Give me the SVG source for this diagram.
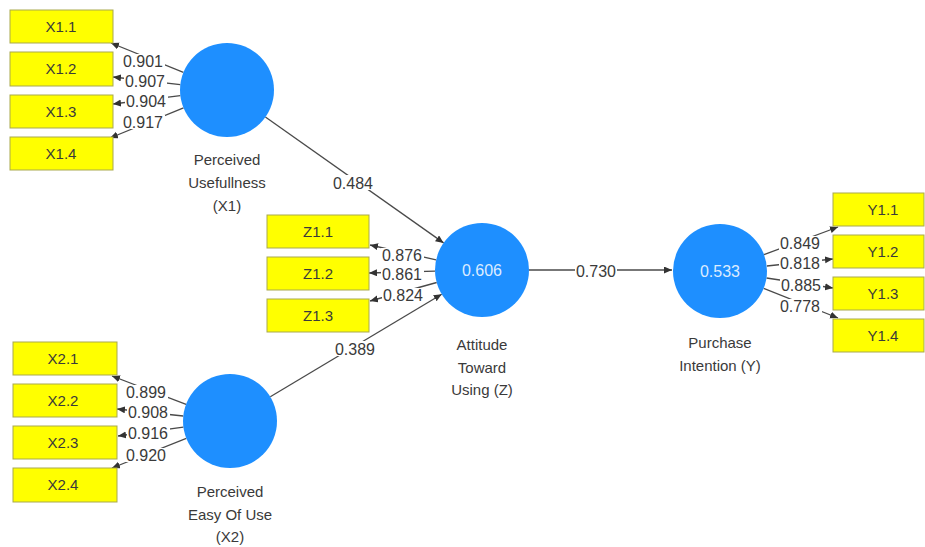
<svg xmlns="http://www.w3.org/2000/svg" width="925" height="547" viewBox="0 0 925 547">
<defs>
<marker id="arr" markerUnits="userSpaceOnUse" markerWidth="9" markerHeight="8" refX="8" refY="3.5" orient="auto">
<path d="M0,0 L8,3.5 L0,7 z" fill="#333"/>
</marker>
<style>
.box{fill:#ffff00;stroke:#a9a94e;stroke-width:1}
.lv{fill:#1e8fff}
.t{font-family:"Liberation Sans","Noto Sans",sans-serif;font-size:15px;fill:#3a3a3a;text-anchor:middle}
.n{font-family:"Liberation Sans","Noto Sans",sans-serif;font-size:16px;fill:#3a3a3a;text-anchor:middle}
.v{font-family:"Liberation Sans","Noto Sans",sans-serif;font-size:16px;fill:#dcecff;text-anchor:middle}
.c{stroke:#4a4a4a;stroke-width:1.3;fill:none;marker-end:url(#arr)}
.bg{fill:#ffffff}
</style>
</defs>
<rect width="925" height="547" fill="#ffffff"/>

<g id="connectors">
<line class="c" x1="265.4" y1="117" x2="443.6" y2="242.9"/>
<line class="c" x1="270.3" y1="396.8" x2="441.7" y2="294.2"/>
<line class="c" x1="529" y1="270" x2="672" y2="270"/>

<line class="c" x1="183.4" y1="72.4" x2="111" y2="43"/>
<line class="c" x1="180.3" y1="84.7" x2="113" y2="77"/>
<line class="c" x1="180.3" y1="95.7" x2="113" y2="104"/>
<line class="c" x1="183.5" y1="107.8" x2="110" y2="138"/>

<line class="c" x1="186.1" y1="404.3" x2="112" y2="376"/>
<line class="c" x1="183.2" y1="416" x2="117" y2="409"/>
<line class="c" x1="183.4" y1="427.2" x2="118" y2="436"/>
<line class="c" x1="186.3" y1="438.4" x2="112" y2="468"/>

<line class="c" x1="436.1" y1="259.8" x2="370" y2="245"/>
<line class="c" x1="435" y1="271.2" x2="369" y2="273"/>
<line class="c" x1="436.7" y1="282.5" x2="370" y2="301"/>

<line class="c" x1="764" y1="254.6" x2="838" y2="227"/>
<line class="c" x1="766.8" y1="266" x2="833" y2="259"/>
<line class="c" x1="766.5" y1="278" x2="833" y2="288"/>
<line class="c" x1="763.7" y1="288.4" x2="838" y2="318"/>

<rect class="bg" x="332" y="175" width="42" height="15"/><text class="n" x="353" y="189">0.484</text>
<rect class="bg" x="334" y="341" width="42" height="15"/><text class="n" x="355" y="355">0.389</text>
<rect class="bg" x="575" y="263" width="42" height="15"/><text class="n" x="596" y="277">0.730</text>

<rect class="bg" x="122" y="54" width="43" height="14"/><text class="n" x="143" y="67">0.901</text>
<rect class="bg" x="124" y="74" width="43" height="14"/><text class="n" x="145" y="87">0.907</text>
<rect class="bg" x="125" y="94" width="43" height="14"/><text class="n" x="146" y="107">0.904</text>
<rect class="bg" x="122" y="115" width="43" height="14"/><text class="n" x="143" y="128">0.917</text>

<rect class="bg" x="125" y="385" width="43" height="14"/><text class="n" x="146" y="398">0.899</text>
<rect class="bg" x="127" y="405" width="43" height="14"/><text class="n" x="148" y="418">0.908</text>
<rect class="bg" x="127" y="426" width="43" height="14"/><text class="n" x="148" y="439">0.916</text>
<rect class="bg" x="125" y="448" width="43" height="14"/><text class="n" x="146" y="461">0.920</text>

<rect class="bg" x="381" y="248" width="43" height="14"/><text class="n" x="402" y="261">0.876</text>
<rect class="bg" x="381" y="267" width="43" height="14"/><text class="n" x="402" y="280">0.861</text>
<rect class="bg" x="382" y="288" width="43" height="14"/><text class="n" x="403" y="301">0.824</text>

<rect class="bg" x="779" y="236" width="43" height="14"/><text class="n" x="800" y="249">0.849</text>
<rect class="bg" x="779" y="256" width="43" height="14"/><text class="n" x="800" y="269">0.818</text>
<rect class="bg" x="780" y="278" width="43" height="14"/><text class="n" x="801" y="291">0.885</text>
<rect class="bg" x="779" y="299" width="43" height="14"/><text class="n" x="800" y="312">0.778</text>
</g>

<g id="X1">
<circle class="lv" cx="227" cy="90" r="47"/>
<text class="t" x="227" y="165">Perceived</text>
<text class="t" x="227" y="188">Usefullness</text>
<text class="t" x="227" y="211">(X1)</text>
</g>
<g id="X2">
<circle class="lv" cx="230" cy="421" r="47"/>
<text class="t" x="230" y="497">Perceived</text>
<text class="t" x="230" y="520">Easy Of Use</text>
<text class="t" x="230" y="542">(X2)</text>
</g>
<g id="Z">
<circle class="lv" cx="482" cy="270" r="47"/>
<text class="v" x="482" y="276">0.606</text>
<text class="t" x="482" y="350">Attitude</text>
<text class="t" x="482" y="373">Toward</text>
<text class="t" x="482" y="395">Using (Z)</text>
</g>
<g id="Y">
<circle class="lv" cx="720" cy="271" r="47"/>
<text class="v" x="720" y="277">0.533</text>
<text class="t" x="720" y="348">Purchase</text>
<text class="t" x="720" y="371">Intention (Y)</text>
</g>

<g id="X1.1"><rect class="box" x="10" y="10" width="103" height="33"/><text class="t" x="61" y="32">X1.1</text></g>
<g id="X1.2"><rect class="box" x="10" y="52" width="103" height="34"/><text class="t" x="61" y="74">X1.2</text></g>
<g id="X1.3"><rect class="box" x="10" y="95" width="103" height="33"/><text class="t" x="61" y="117">X1.3</text></g>
<g id="X1.4"><rect class="box" x="10" y="137" width="103" height="33"/><text class="t" x="61" y="159">X1.4</text></g>

<g id="X2.1"><rect class="box" x="13" y="342" width="104" height="33"/><text class="t" x="63" y="364">X2.1</text></g>
<g id="X2.2"><rect class="box" x="13" y="384" width="104" height="33"/><text class="t" x="63" y="406">X2.2</text></g>
<g id="X2.3"><rect class="box" x="13" y="426" width="104" height="33"/><text class="t" x="63" y="448">X2.3</text></g>
<g id="X2.4"><rect class="box" x="13" y="468" width="104" height="34"/><text class="t" x="63" y="490">X2.4</text></g>

<g id="Z1.1"><rect class="box" x="267" y="215" width="102" height="33"/><text class="t" x="318" y="237">Z1.1</text></g>
<g id="Z1.2"><rect class="box" x="267" y="257" width="102" height="33"/><text class="t" x="318" y="279">Z1.2</text></g>
<g id="Z1.3"><rect class="box" x="267" y="299" width="102" height="33"/><text class="t" x="318" y="321">Z1.3</text></g>

<g id="Y1.1"><rect class="box" x="833" y="193" width="91" height="33"/><text class="t" x="883" y="215">Y1.1</text></g>
<g id="Y1.2"><rect class="box" x="833" y="235" width="91" height="33"/><text class="t" x="883" y="257">Y1.2</text></g>
<g id="Y1.3"><rect class="box" x="833" y="277" width="91" height="33"/><text class="t" x="883" y="299">Y1.3</text></g>
<g id="Y1.4"><rect class="box" x="833" y="319" width="91" height="33"/><text class="t" x="883" y="341">Y1.4</text></g>
</svg>
